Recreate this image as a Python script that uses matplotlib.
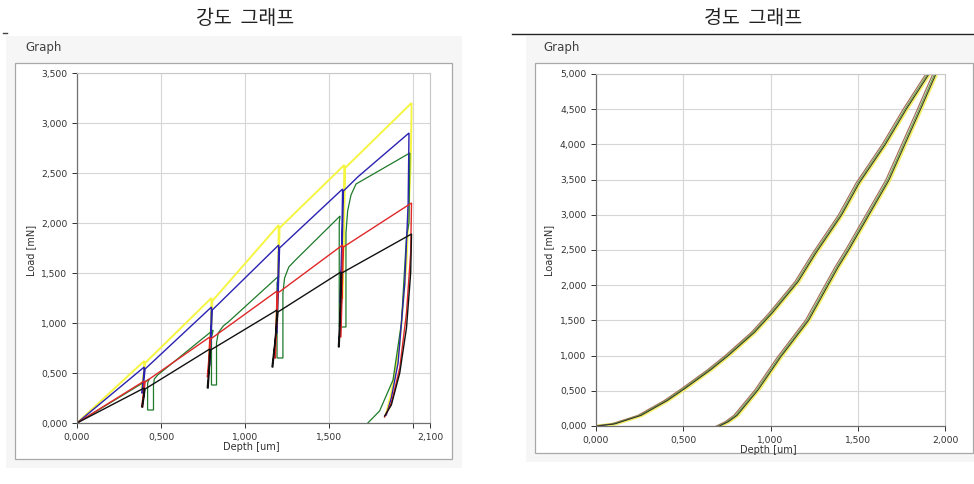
import matplotlib
matplotlib.use('Agg')
import matplotlib.pyplot as plt
from matplotlib.patches import Rectangle
from matplotlib.lines import Line2D

W, H = 974, 484

# ---- left chart: 강도 그래프 (cyclic loading), depth [um] / load [mN]
YELLOW_D = [0.00, 0.40, 0.398, 0.385, 0.39, 0.405, 0.80, 0.798, 0.785, 0.79, 0.805, 1.20, 1.198, 1.185, 1.19, 1.205,
            1.59, 1.588, 1.575, 1.58, 1.595, 1.99, 1.99, 1.985, 1.96, 1.92, 1.87, 1.84]
YELLOW_L = [0.00, 0.62, 0.50, 0.36, 0.36, 0.60, 1.25, 1.00, 0.63, 0.63, 1.22, 1.98, 1.50, 0.97, 0.97, 1.95,
            2.58, 2.00, 1.25, 1.25, 2.55, 3.20, 3.10, 2.60, 1.60, 0.80, 0.30, 0.10]

BLUE_D = [0.00, 0.40, 0.395, 0.385, 0.39, 0.405, 0.80, 0.795, 0.785, 0.79, 0.805, 1.20, 1.195, 1.185, 1.19, 1.205,
          1.58, 1.575, 1.565, 1.57, 1.585, 1.67, 1.975, 1.97, 1.95, 1.91, 1.87, 1.84]
BLUE_L = [0.00, 0.56, 0.45, 0.30, 0.30, 0.54, 1.16, 0.90, 0.58, 0.58, 1.13, 1.78, 1.40, 0.90, 0.90, 1.75,
          2.34, 1.80, 1.20, 1.20, 2.32, 2.46, 2.90, 2.20, 1.40, 0.60, 0.25, 0.08]

GREEN_D = [0.00, 0.43, 0.42, 0.42, 0.455, 0.455, 0.46, 0.48,
           0.81, 0.80, 0.80, 0.83, 0.83, 0.84, 0.87, 0.90,
           1.20, 1.19, 1.19, 1.225, 1.225, 1.235, 1.26, 1.30,
           1.565, 1.56, 1.56, 1.60, 1.60, 1.61, 1.63, 1.66,
           1.98, 1.975, 1.96, 1.93, 1.88, 1.80, 1.73]
GREEN_L = [0.00, 0.44, 0.40, 0.13, 0.13, 0.38, 0.44, 0.48,
           0.93, 0.85, 0.38, 0.38, 0.80, 0.90, 0.97, 1.01,
           1.47, 1.40, 0.65, 0.65, 1.30, 1.45, 1.56, 1.63,
           2.07, 2.00, 0.96, 0.96, 1.90, 2.12, 2.28, 2.39,
           2.70, 2.00, 1.86, 1.00, 0.43, 0.12, 0.00]

RED_D = [0.00, 0.40, 0.395, 0.385, 0.39, 0.405, 0.79, 0.785, 0.775, 0.78, 0.795, 1.19, 1.185, 1.175, 1.18, 1.195,
         1.58, 1.575, 1.565, 1.57, 1.585, 1.99, 1.985, 1.96, 1.92, 1.87, 1.83]
RED_L = [0.00, 0.42, 0.30, 0.16, 0.16, 0.41, 0.86, 0.65, 0.46, 0.46, 0.84, 1.32, 1.00, 0.65, 0.65, 1.30,
         1.78, 1.30, 0.86, 0.86, 1.76, 2.20, 1.70, 1.10, 0.55, 0.20, 0.06]

BLACK_D = [0.00, 0.40, 0.395, 0.385, 0.39, 0.405, 0.79, 0.785, 0.775, 0.78, 0.795, 1.19, 1.18, 1.16, 1.165, 1.195,
           1.57, 1.565, 1.555, 1.56, 1.575, 1.99, 1.985, 1.96, 1.92, 1.87, 1.83]
BLACK_L = [0.00, 0.35, 0.25, 0.16, 0.16, 0.34, 0.74, 0.55, 0.35, 0.35, 0.73, 1.13, 0.85, 0.56, 0.56, 1.11,
           1.51, 1.10, 0.76, 0.76, 1.50, 1.89, 1.50, 0.95, 0.50, 0.18, 0.07]

STRENGTH_SERIES = [
    (YELLOW_D, YELLOW_L, '#f5f542', 1.4),
    (GREEN_D, GREEN_L, '#1f7a2a', 0.9),
    (BLUE_D, BLUE_L, '#2a22b0', 1.0),
    (RED_D, RED_L, '#e02828', 1.0),
    (BLACK_D, BLACK_L, '#111111', 1.0),
]
STRENGTH_XTICKS = [0.0, 0.5, 1.0, 1.5, 2.0, 2.1]
STRENGTH_XLABELS = ['0,000', '0,500', '1,000', '1,500', '', '2,100']
STRENGTH_YTICKS = [0.0, 0.5, 1.0, 1.5, 2.0, 2.5, 3.0, 3.5]

# ---- right chart: 경도 그래프 (single load / unload)
LOAD_D = [0.00, 0.10, 0.25, 0.40, 0.50, 0.65, 0.75, 0.90, 1.00, 1.15, 1.25, 1.40, 1.50, 1.65, 1.77, 1.90]
LOAD_L = [0.00, 0.03, 0.15, 0.36, 0.53, 0.80, 1.00, 1.33, 1.60, 2.05, 2.45, 3.00, 3.45, 4.00, 4.50, 5.00]
UNLOAD_D = [1.94, 1.85, 1.67, 1.44, 1.38, 1.21, 1.05, 0.92, 0.80, 0.75, 0.70]
UNLOAD_L = [5.00, 4.49, 3.49, 2.50, 2.26, 1.50, 0.98, 0.51, 0.15, 0.06, 0.00]
HARD_SHIFT = [0.012, -0.010, 0.0, 0.008]
HARD_COLORS = ['#f2ee6a', '#a8705e', '#5a9a48', '#2a2a2a']
HARD_WIDTHS = [2.4, 0.9, 0.7, 0.7]
HARD_XTICKS = [0.0, 0.5, 1.0, 1.5, 2.0]
HARD_YTICKS = [0.0, 0.5, 1.0, 1.5, 2.0, 2.5, 3.0, 3.5, 4.0, 4.5, 5.0]


def comma(v):
    return ('%.3f' % v).replace('.', ',')


def fig_rect(fig, x0, y0, x1, y1, **kw):
    r = Rectangle((x0 / W, 1 - y1 / H), (x1 - x0) / W, (y1 - y0) / H,
                  transform=fig.transFigure, zorder=-10, **kw)
    fig.patches.append(r)


def style_axes(ax):
    ax.set_facecolor('white')
    ax.grid(True, color='#d6d6d6', linewidth=0.8)
    ax.set_axisbelow(True)
    for side in ['top', 'right']:
        ax.spines[side].set_color('#c8c8c8')
        ax.spines[side].set_linewidth(0.8)
    for side in ['left', 'bottom']:
        ax.spines[side].set_color('#707070')
        ax.spines[side].set_linewidth(0.9)
    ax.tick_params(labelsize=6.6, colors='#303030', length=3.5, width=0.7, pad=3.5)


fig = plt.figure(figsize=(W / 100, H / 100), dpi=100)
fig.patch.set_facecolor('white')

# panel backgrounds
fig_rect(fig, 6, 36, 462, 468, facecolor='#f6f6f6', edgecolor='none')
fig_rect(fig, 15, 63, 452, 459, facecolor='white', edgecolor='#a8a8a8', linewidth=0.9)
fig_rect(fig, 526, 36, 974, 462, facecolor='#f6f6f6', edgecolor='none')
fig_rect(fig, 535, 63, 973, 453, facecolor='white', edgecolor='#a8a8a8', linewidth=0.9)

# titles
kr = ['Noto Sans CJK KR', 'DejaVu Sans']
fig.text(245 / W, 1 - 18 / H, '강도  그래프', family=kr, fontsize=14, ha='center', va='center', color='#222222')
fig.text(753 / W, 1 - 18 / H, '경도  그래프', family=kr, fontsize=14, ha='center', va='center', color='#222222')
fig.lines.append(Line2D([512 / W, 1.0], [1 - 34 / H, 1 - 34 / H], transform=fig.transFigure,
                        color='#222222', linewidth=1.0))
fig.lines.append(Line2D([3 / W, 7 / W], [1 - 33 / H, 1 - 33 / H], transform=fig.transFigure,
                        color='#444444', linewidth=1.0))
fig.text(25 / W, 1 - 47 / H, 'Graph', fontsize=8.5, ha='left', va='center', color='#404040')
fig.text(543 / W, 1 - 47 / H, 'Graph', fontsize=8.5, ha='left', va='center', color='#404040')

# left axes
ax1 = fig.add_axes([77 / W, 1 - 423 / H, 353 / W, 350 / H])
style_axes(ax1)
for d, l, c, lw in STRENGTH_SERIES:
    ax1.plot(d, l, color=c, linewidth=lw, solid_joinstyle='miter')
ax1.set_xlim(0, 2.1)
ax1.set_ylim(0, 3.5)
ax1.set_xticks(STRENGTH_XTICKS)
ax1.set_xticklabels(STRENGTH_XLABELS)
ax1.set_yticks(STRENGTH_YTICKS)
ax1.set_yticklabels([comma(v) for v in STRENGTH_YTICKS])
fig.text(31 / W, 1 - 250 / H, 'Load [mN]', fontsize=7, rotation=90, ha='center', va='center', color='#303030')
fig.text(251 / W, 1 - 447 / H, 'Depth [um]', fontsize=7, ha='center', va='center', color='#303030')

# right axes
ax2 = fig.add_axes([596 / W, 1 - 426 / H, 349 / W, 352 / H])
style_axes(ax2)
for s, c, lw in zip(HARD_SHIFT, HARD_COLORS, HARD_WIDTHS):
    ax2.plot([x + s for x in LOAD_D], LOAD_L, color=c, linewidth=lw)
    ax2.plot([x + s for x in UNLOAD_D], UNLOAD_L, color=c, linewidth=lw)
ax2.set_xlim(0, 2.0)
ax2.set_ylim(0, 5.0)
ax2.set_xticks(HARD_XTICKS)
ax2.set_xticklabels([comma(v) for v in HARD_XTICKS])
ax2.set_yticks(HARD_YTICKS)
ax2.set_yticklabels([comma(v) for v in HARD_YTICKS])
fig.text(549 / W, 1 - 250 / H, 'Load [mN]', fontsize=7, rotation=90, ha='center', va='center', color='#303030')
fig.text(768 / W, 1 - 450 / H, 'Depth [um]', fontsize=7, ha='center', va='center', color='#303030')

fig.savefig('out.png', dpi=100, facecolor=fig.get_facecolor())
